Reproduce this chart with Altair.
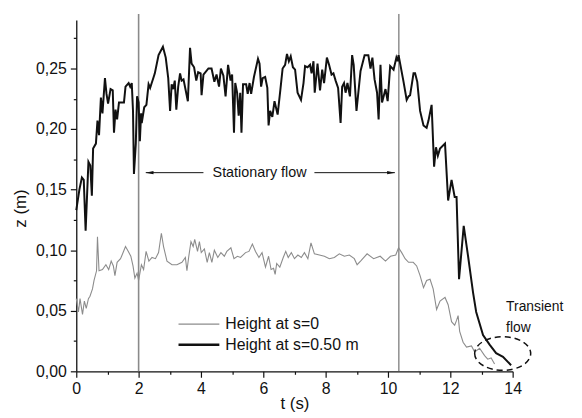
import altair as alt
import pandas as pd

# ---- data ----
black_t = [0.00, 0.10, 0.18, 0.24, 0.30, 0.39, 0.45, 0.50, 0.54, 0.63, 0.68, 0.73, 0.79, 0.84, 0.92, 0.97,
           1.02, 1.10, 1.17, 1.21, 1.26, 1.31, 1.37, 1.53, 1.58, 1.68, 1.73, 1.78, 1.82, 1.85, 1.91, 1.95,
           2.00, 2.04, 2.08, 2.10, 2.18, 2.25, 2.32, 2.37, 2.42, 2.47, 2.52, 2.64, 2.78, 2.87, 2.95, 3.01,
           3.06, 3.11, 3.16, 3.21, 3.27, 3.33, 3.38, 3.44, 3.58, 3.65, 3.70, 3.78, 3.85, 3.91, 3.99, 4.02,
           4.08, 4.24, 4.34, 4.43, 4.50, 4.58, 4.64, 4.72, 4.79, 4.87, 4.95, 5.00, 5.06, 5.10, 5.16, 5.21,
           5.26, 5.30, 5.35, 5.45, 5.50, 5.56, 5.61, 5.70, 5.83, 5.88, 5.93, 5.98, 6.06, 6.13, 6.17, 6.22,
           6.29, 6.36, 6.46, 6.55, 6.62, 6.70, 6.76, 6.82, 6.88, 6.95, 7.02, 7.10, 7.21, 7.29, 7.34, 7.42,
           7.50, 7.55, 7.61, 7.65, 7.74, 7.82, 7.89, 7.95, 8.04, 8.11, 8.19, 8.25, 8.32, 8.40, 8.48, 8.53,
           8.59, 8.64, 8.70, 8.78, 8.85, 8.90, 8.99, 9.12, 9.18, 9.25, 9.37, 9.44, 9.50, 9.57, 9.65, 9.70,
           9.76, 9.81, 9.87, 9.92, 9.99, 10.07, 10.18, 10.27, 10.31, 10.34, 10.50, 10.60, 10.66, 10.71,
           10.82, 10.87, 10.94, 11.03, 11.14, 11.24, 11.30, 11.40, 11.48, 11.54, 11.60, 11.67, 11.83,
           11.93, 12.04, 12.14, 12.20, 12.28, 12.43, 12.57, 12.73, 12.83, 13.05, 13.26, 13.47, 13.69, 13.95]
black_z = [0.133, 0.150, 0.160, 0.158, 0.116, 0.173, 0.170, 0.145, 0.184, 0.188, 0.207, 0.195, 0.226, 0.213, 0.242, 0.229,
           0.221, 0.233, 0.232, 0.197, 0.216, 0.208, 0.222, 0.222, 0.235, 0.238, 0.235, 0.238, 0.215, 0.163, 0.188, 0.227,
           0.222, 0.190, 0.213, 0.205, 0.218, 0.220, 0.237, 0.234, 0.238, 0.242, 0.246, 0.261, 0.268, 0.259, 0.242, 0.215,
           0.237, 0.233, 0.240, 0.216, 0.235, 0.246, 0.240, 0.241, 0.223, 0.267, 0.254, 0.251, 0.240, 0.247, 0.246, 0.228,
           0.245, 0.250, 0.250, 0.239, 0.245, 0.235, 0.250, 0.244, 0.227, 0.253, 0.240, 0.245, 0.197, 0.238, 0.230, 0.211,
           0.230, 0.197, 0.237, 0.237, 0.229, 0.238, 0.229, 0.243, 0.258, 0.254, 0.235, 0.242, 0.243, 0.234, 0.203, 0.215,
           0.210, 0.223, 0.212, 0.233, 0.250, 0.253, 0.262, 0.256, 0.260, 0.251, 0.249, 0.230, 0.224, 0.238, 0.252, 0.251,
           0.253, 0.246, 0.256, 0.230, 0.254, 0.232, 0.249, 0.238, 0.259, 0.253, 0.245, 0.246, 0.240, 0.234, 0.205, 0.235,
           0.238, 0.230, 0.238, 0.227, 0.261, 0.253, 0.215, 0.248, 0.254, 0.261, 0.261, 0.250, 0.259, 0.241, 0.230, 0.208,
           0.253, 0.222, 0.228, 0.233, 0.223, 0.252, 0.249, 0.259, 0.256, 0.261, 0.239, 0.224, 0.227, 0.228,
           0.246, 0.246, 0.239, 0.215, 0.203, 0.201, 0.207, 0.220, 0.169, 0.185, 0.178, 0.184, 0.188,
           0.141, 0.158, 0.144, 0.144, 0.076, 0.120, 0.095, 0.065, 0.049, 0.030, 0.022, 0.015, 0.012, 0.005]

grey_t = [0.00, 0.07, 0.12, 0.20, 0.26, 0.32, 0.39, 0.44, 0.52, 0.57, 0.65, 0.68, 0.73, 0.84, 0.95, 1.04,
          1.12, 1.19, 1.24, 1.31, 1.42, 1.47, 1.58, 1.67, 1.75, 1.82, 1.88, 1.95, 2.00, 2.09, 2.16, 2.24,
          2.33, 2.43, 2.54, 2.64, 2.73, 2.80, 2.91, 3.07, 3.23, 3.39, 3.50, 3.55, 3.61, 3.68, 3.75, 3.80,
          3.89, 3.95, 4.01, 4.11, 4.20, 4.27, 4.35, 4.43, 4.54, 4.64, 4.75, 4.83, 4.96, 5.06, 5.17, 5.27,
          5.43, 5.54, 5.65, 5.75, 5.86, 5.96, 6.07, 6.17, 6.25, 6.33, 6.38, 6.43, 6.53, 6.64, 6.72, 6.80,
          6.90, 7.00, 7.11, 7.22, 7.32, 7.43, 7.53, 7.64, 7.80, 7.96, 8.12, 8.28, 8.44, 8.60, 8.76, 8.92,
          9.01, 9.12, 9.33, 9.54, 9.75, 9.92, 10.08, 10.25, 10.34, 10.44, 10.55, 10.66, 10.81, 10.92,
          11.03, 11.14, 11.24, 11.35, 11.45, 11.56, 11.67, 11.83, 11.93, 12.04, 12.14, 12.20, 12.25,
          12.30, 12.41, 12.52, 12.68, 12.78, 12.94, 13.10, 13.20, 13.31, 13.42]
grey_z = [0.060, 0.049, 0.060, 0.047, 0.058, 0.052, 0.060, 0.062, 0.068, 0.075, 0.083, 0.111, 0.083, 0.084, 0.088, 0.084,
          0.091, 0.087, 0.079, 0.090, 0.093, 0.096, 0.103, 0.099, 0.095, 0.087, 0.077, 0.081, 0.075, 0.088, 0.084, 0.099,
          0.091, 0.094, 0.093, 0.098, 0.114, 0.103, 0.091, 0.088, 0.088, 0.090, 0.094, 0.083, 0.095, 0.107, 0.103, 0.109,
          0.099, 0.107, 0.098, 0.101, 0.090, 0.098, 0.090, 0.100, 0.094, 0.098, 0.095, 0.099, 0.102, 0.093, 0.095, 0.094,
          0.098, 0.099, 0.105, 0.099, 0.094, 0.098, 0.086, 0.095, 0.084, 0.085, 0.080, 0.089, 0.086, 0.094, 0.099, 0.094,
          0.098, 0.093, 0.096, 0.094, 0.098, 0.093, 0.106, 0.097, 0.096, 0.095, 0.093, 0.094, 0.097, 0.095, 0.096, 0.093,
          0.088, 0.091, 0.097, 0.093, 0.095, 0.091, 0.095, 0.096, 0.102, 0.098, 0.093, 0.090, 0.090, 0.087,
          0.079, 0.069, 0.075, 0.076, 0.068, 0.051, 0.058, 0.061, 0.055, 0.041, 0.038, 0.042, 0.046,
          0.033, 0.024, 0.020, 0.021, 0.016, 0.019, 0.013, 0.010, 0.011, 0.006]

x_ticks = [0, 1, 2, 3, 4, 5, 6, 7, 8, 9, 10, 11, 12, 13, 14]
y_ticks = [0.0, 0.025, 0.05, 0.075, 0.10, 0.125, 0.15, 0.175, 0.20, 0.225, 0.25, 0.275]

legend_labels = ["Height at s=0", "Height at s=0.50 m"]
legend_colors = ["#8c8c8c", "#111111"]
legend_widths = [1.2, 2.5]
legend_t0, legend_t1, legend_text_t = 3.28, 4.59, 4.78
legend_z = [0.039, 0.022]

markers_t = [2.0, 10.35]
marker_top = 0.295

FONT = "Liberation Sans"

black_df = pd.DataFrame({"t": black_t, "z": black_z})
grey_df = pd.DataFrame({"t": grey_t, "z": grey_z})

xs = alt.Scale(domain=[0, 14], nice=False, zero=False)
ys = alt.Scale(domain=[0, 0.29], nice=False, zero=True)

x_axis = alt.Axis(
    values=x_ticks, grid=False, labelFlush=False, labelOverlap=False,
    labelExpr="datum.value % 2 === 0 ? format(datum.value, 'd') : ''",
    tickSize={"condition": {"test": "datum.value % 2 === 0", "value": 6}, "value": 3},
    labelPadding=3, titlePadding=0, orient="bottom",
)
y_axis = alt.Axis(
    values=y_ticks, grid=False, labelFlush=False, labelOverlap=False,
    labelExpr="round(datum.value * 1000) % 50 === 0 ? replace(format(datum.value, '.2f'), '.', ',') : ''",
    tickSize={"condition": {"test": "round(datum.value * 1000) % 50 === 0", "value": 6}, "value": 3},
    labelPadding=4, titleY=190, titlePadding=6, orient="left",
)


def X(field):
    return alt.X(field, scale=xs, axis=x_axis, title="t (s)")


def Y(field):
    return alt.Y(field, scale=ys, axis=y_axis, title="z (m)")


rule_df = pd.DataFrame({"t": markers_t, "z0": [0, 0], "z1": [marker_top, marker_top],
                        "c": ["#8a8a8a", "#555555"], "w": [1.6, 1.0]})
rules = alt.Chart(rule_df).mark_rule().encode(
    x=X("t:Q"), y=Y("z0:Q"), y2="z1:Q",
    color=alt.Color("c:N", scale=None),
    strokeWidth=alt.StrokeWidth("w:Q", scale=None),
)

grey_line = alt.Chart(grey_df).mark_line(color="#8c8c8c", strokeWidth=1.1).encode(
    x=X("t:Q"), y=Y("z:Q"))
black_line = alt.Chart(black_df).mark_line(color="#111111", strokeWidth=2).encode(
    x=X("t:Q"), y=Y("z:Q"))

# Stationary flow annotation
arrow_df = pd.DataFrame({"t0": [2.23, 7.64], "t1": [4.08, 10.22], "z": [0.164, 0.164]})
arrows = alt.Chart(arrow_df).mark_rule(color="#111111", strokeWidth=1).encode(
    x=X("t0:Q"), x2="t1:Q", y=Y("z:Q"))
head_df = pd.DataFrame({"t": [2.35, 10.10], "z": [0.164, 0.164],
                        "shape": ["M -1 0 L 1 -0.42 L 1 0.42 Z", "M 1 0 L -1 -0.42 L -1 0.42 Z"]})
heads = alt.Chart(head_df).mark_point(filled=True, color="#111111", size=64, opacity=1).encode(
    x=X("t:Q"), y=Y("z:Q"), shape=alt.Shape("shape:N", scale=None))
stat_df = pd.DataFrame({"t": [5.88], "z": [0.164], "label": ["Stationary flow"]})
stat_text = alt.Chart(stat_df).mark_text(font=FONT, fontSize=14.5, color="#111111",
                                          align="center", baseline="middle").encode(
    x=X("t:Q"), y=Y("z:Q"), text="label:N")

# Legend (inside plot)
leg_df = pd.DataFrame({"t0": [legend_t0] * 2, "t1": [legend_t1] * 2, "tt": [legend_text_t] * 2,
                       "z": legend_z, "label": legend_labels, "c": legend_colors, "w": legend_widths})
leg_lines = alt.Chart(leg_df).mark_rule().encode(
    x=X("t0:Q"), x2="t1:Q", y=Y("z:Q"),
    color=alt.Color("c:N", scale=None), strokeWidth=alt.StrokeWidth("w:Q", scale=None))
leg_text = alt.Chart(leg_df).mark_text(font=FONT, fontSize=16, color="#111111",
                                        align="left", baseline="middle").encode(
    x=X("tt:Q"), y=Y("z:Q"), text="label:N")

# Transient flow annotation
trans_df = pd.DataFrame({"t": [13.79, 13.79], "z": [0.053, 0.036], "label": ["Transient", "flow"]})
trans_text = alt.Chart(trans_df).mark_text(font=FONT, fontSize=14, color="#111111",
                                            align="left", baseline="middle").encode(
    x=X("t:Q"), y=Y("z:Q"), text="label:N")
ell_df = pd.DataFrame({"t": [13.68], "z": [0.0147]})
ellipse = alt.Chart(ell_df).mark_point(
    shape="M -1 0 A 1 0.6 0 1 0 1 0 A 1 0.6 0 1 0 -1 0 Z",
    size=3204, filled=False, color="#111111", strokeWidth=1.5, strokeDash=[6, 4], opacity=1
).encode(x=X("t:Q"), y=Y("z:Q"))

chart = alt.layer(
    rules, grey_line, black_line, arrows, heads, stat_text,
    leg_lines, leg_text, trans_text, ellipse
).properties(
    width=441, height=355,
    autosize=alt.AutoSizeParams(type="none"),
    padding={"left": 69, "top": 10, "right": 62, "bottom": 44},
    background="white",
).configure_view(stroke=None).configure_axis(
    domainColor="#111111", tickColor="#111111", domainWidth=1.3, tickWidth=1.2,
    labelFont=FONT, labelFontSize=16, labelColor="#111111",
    titleFont=FONT, titleFontSize=17, titleFontWeight="normal", titleColor="#111111",
)

chart.save("out.html", embed_options={"renderer": "svg", "actions": False})
